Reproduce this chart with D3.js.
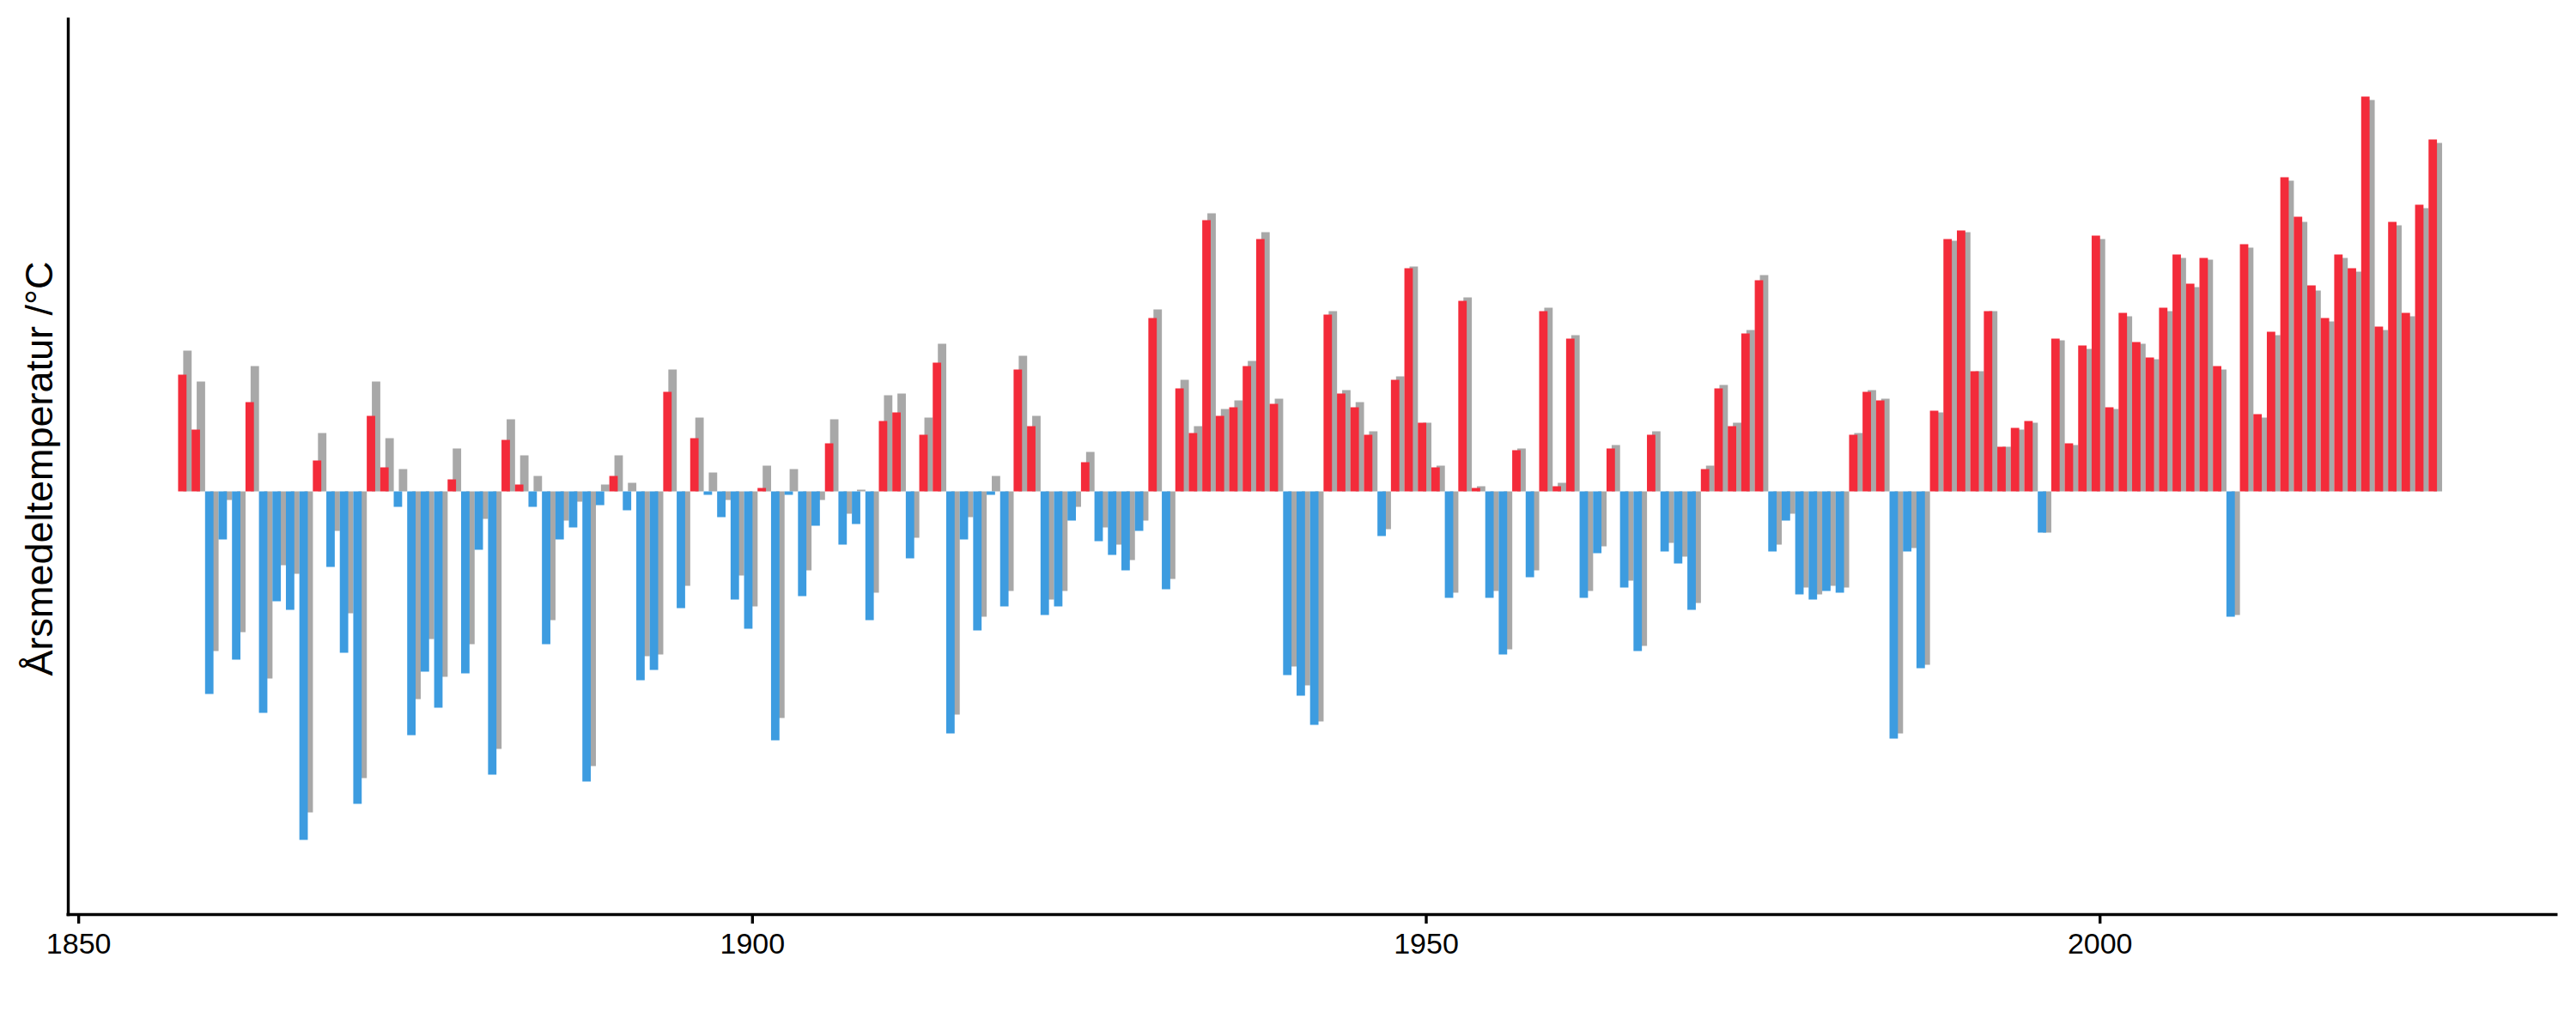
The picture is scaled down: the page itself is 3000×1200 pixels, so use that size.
<!DOCTYPE html>
<html lang="sv">
<head>
    <meta charset="utf-8">
    <script type="text/javascript" src="https://d3js.org/d3.v7.min.js"></script>
    <style>
        body { margin: 0; background: #ffffff; }
        text { font-family: "Liberation Sans", Arial, Helvetica, sans-serif; }
    </style>
</head>

<body>
    <script type="text/javascript">
        let w = 3000;
        let h = 1200;

        // years shown as bars
        let firstYear = 1858;
        let lastYear = 2025;
        let years = d3.range(firstYear, lastYear + 1);

        // coloured series, 1858..2025 (anomaly, °C)
        let obs = [
            0.68, 0.36, -1.18, -0.28, -0.98, 0.52, -1.29, -0.64, -0.69, -2.03,   // 1858-1867
            0.18, -0.44, -0.94, -1.82, 0.44, 0.14, -0.09, -1.42, -1.05, -1.26,   // 1868-1877
            0.07, -1.06, -0.34, -1.65, 0.30, 0.04, -0.09, -0.89, -0.28, -0.21,   // 1878-1887
            -1.69, -0.08, 0.09, -0.11, -1.10, -1.04, 0.58, -0.68, 0.31, -0.02,   // 1888-1897
            -0.15, -0.63, -0.80, 0.02, -1.45, -0.02, -0.61, -0.20, 0.28, -0.31,  // 1898-1907
            -0.19, -0.75, 0.41, 0.46, -0.39, 0.33, 0.75, -1.41, -0.28, -0.81,    // 1908-1917
            -0.02, -0.67, 0.71, 0.38, -0.72, -0.67, -0.17, 0.17, -0.29, -0.37,   // 1918-1927
            -0.46, -0.23, 1.01, -0.57, 0.60, 0.34, 1.58, 0.44, 0.49, 0.73,       // 1928-1937
            1.47, 0.51, -1.07, -1.19, -1.36, 1.03, 0.57, 0.49, 0.33, -0.26,      // 1938-1947
            0.65, 1.30, 0.40, 0.14, -0.62, 1.11, 0.02, -0.62, -0.95, 0.24,       // 1948-1957
            -0.50, 1.05, 0.03, 0.89, -0.62, -0.36, 0.25, -0.56, -0.93, 0.33,     // 1958-1967
            -0.35, -0.42, -0.69, 0.13, 0.60, 0.38, 0.92, 1.23, -0.35, -0.17,     // 1968-1977
            -0.60, -0.63, -0.58, -0.59, 0.33, 0.58, 0.53, -1.44, -0.35, -1.03,   // 1978-1987
            0.47, 1.47, 1.52, 0.70, 1.05, 0.26, 0.37, 0.41, -0.24, 0.89,         // 1988-1997
            0.28, 0.85, 1.49, 0.49, 1.04, 0.87, 0.78, 1.07, 1.38, 1.21,          // 1998-2007
            1.36, 0.73, -0.73, 1.44, 0.45, 0.93, 1.83, 1.60, 1.20, 1.01,         // 2008-2017
            1.38, 1.30, 2.30, 0.96, 1.57, 1.04, 1.67, 2.05                       // 2018-2025
        ];

        // grey series drawn behind, same years
        let ref = [
            0.82, 0.64, -0.93, -0.05, -0.82, 0.73, -1.09, -0.43, -0.48, -1.87,   // 1858-1867
            0.34, -0.23, -0.71, -1.67, 0.64, 0.31, 0.13, -1.21, -0.86, -1.08,    // 1868-1877
            0.25, -0.89, -0.16, -1.50, 0.42, 0.21, 0.09, -0.75, -0.17, -0.06,    // 1878-1887
            -1.60, 0.04, 0.21, 0.05, -0.96, -0.95, 0.71, -0.55, 0.43, 0.11,      // 1888-1897
            -0.05, -0.49, -0.67, 0.15, -1.32, 0.13, -0.46, -0.05, 0.42, -0.13,   // 1898-1907
            0.01, -0.59, 0.56, 0.57, -0.27, 0.43, 0.86, -1.30, -0.15, -0.73,     // 1908-1917
            0.09, -0.58, 0.79, 0.44, -0.63, -0.58, -0.09, 0.23, -0.21, -0.31,    // 1918-1927
            -0.40, -0.17, 1.06, -0.51, 0.65, 0.38, 1.62, 0.48, 0.53, 0.76,       // 1928-1937
            1.51, 0.54, -1.02, -1.13, -1.34, 1.05, 0.59, 0.52, 0.35, -0.22,      // 1938-1947
            0.67, 1.31, 0.40, 0.15, -0.59, 1.13, 0.03, -0.58, -0.92, 0.25,       // 1948-1957
            -0.46, 1.07, 0.05, 0.91, -0.58, -0.32, 0.27, -0.52, -0.90, 0.35,     // 1958-1967
            -0.30, -0.38, -0.65, 0.15, 0.62, 0.40, 0.94, 1.26, -0.31, -0.13,     // 1968-1977
            -0.56, -0.60, -0.55, -0.56, 0.34, 0.59, 0.54, -1.41, -0.33, -1.01,   // 1978-1987
            0.46, 1.46, 1.51, 0.70, 1.05, 0.26, 0.36, 0.40, -0.24, 0.88,         // 1988-1997
            0.27, 0.83, 1.47, 0.48, 1.02, 0.86, 0.77, 1.05, 1.36, 1.19,          // 1998-2007
            1.35, 0.71, -0.72, 1.42, 0.43, 0.91, 1.81, 1.57, 1.17, 0.99,         // 2008-2017
            1.36, 1.28, 2.28, 0.94, 1.55, 1.02, 1.65, 2.03                       // 2018-2025
        ];

        let xTicks = [1850, 1900, 1950, 2000];
        let yTitle = "Årsmedeltemperatur /°C";

        let warm = "#f32b3a";
        let cold = "#3d9ce0";
        let grey = "#a8a8a8";

        let data = years.map(function(y, i) {
            return { year: y, obs: obs[i], ref: ref[i] };
        });

        let svg = d3.select("body").append("svg")
            .attr("width", w)
            .attr("height", h);

        let x = d3.scaleLinear()
            .domain([1849.1, 2033.95])
            .range([77, 2978]);

        let y = d3.scaleLinear()
            .domain([-2.4625, 2.7625])
            .range([1065, 20]);

        let step = x(1851) - x(1850);
        let barW = step * 0.625;

        // grey bars first, shifted right so they peek out behind
        svg.append("g").selectAll("rect")
            .data(data)
            .join("rect")
            .attr("x", function(d) { return x(d.year) - step * 0.21; })
            .attr("width", barW)
            .attr("y", function(d) { return y(Math.max(0, d.ref)); })
            .attr("height", function(d) { return Math.abs(y(d.ref) - y(0)); })
            .attr("fill", grey);

        svg.append("g").selectAll("rect")
            .data(data)
            .join("rect")
            .attr("x", function(d) { return x(d.year) - step * 0.59; })
            .attr("width", barW)
            .attr("y", function(d) { return y(Math.max(0, d.obs)); })
            .attr("height", function(d) { return Math.abs(y(d.obs) - y(0)); })
            .attr("fill", function(d) { return d.obs >= 0 ? warm : cold; });

        // x axis
        let xAxis = svg.append("g")
            .attr("transform", "translate(0," + 1065 + ")")
            .call(d3.axisBottom(x).tickValues(xTicks).tickFormat(d3.format("d")).tickSize(11).tickSizeOuter(0));
        xAxis.select(".domain").attr("stroke", "#000").attr("stroke-width", 3.4);
        xAxis.selectAll(".tick line").attr("stroke", "#000").attr("stroke-width", 3.4);
        xAxis.selectAll(".tick text")
            .attr("fill", "#000")
            .attr("font-size", 34)
            .attr("y", 22)
            .attr("dy", "0.71em")
            .style("font-family", "'Liberation Sans', Arial, sans-serif");

        // y axis, no ticks
        let yAxis = svg.append("g")
            .attr("transform", "translate(" + 79 + ",0)")
            .call(d3.axisLeft(y.copy().range([1066.7, 20])).tickValues([]).tickSizeOuter(0));
        yAxis.select(".domain").attr("stroke", "#000").attr("stroke-width", 3.4);

        svg.append("text")
            .attr("transform", "translate(61,546) rotate(-90)")
            .attr("text-anchor", "middle")
            .attr("font-size", 45)
            .attr("fill", "#000")
            .text(yTitle);
    </script>
</body>
</html>
